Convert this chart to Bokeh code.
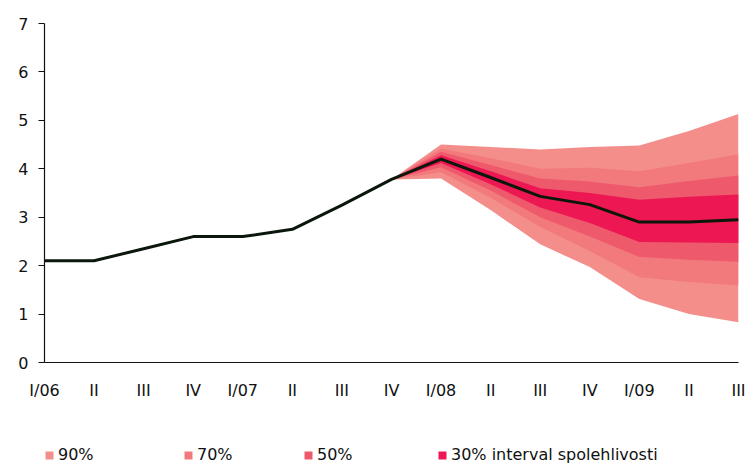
from bokeh.plotting import figure
from bokeh.layouts import column
from bokeh.models import FixedTicker, Legend, LegendItem, Range1d
from bokeh.embed import file_html
from bokeh.resources import INLINE

quarters = ["I/06", "II", "III", "IV", "I/07", "II", "III", "IV",
            "I/08", "II", "III", "IV", "I/09", "II", "III"]
baseline = [2.1, 2.1, 2.35, 2.6, 2.6, 2.75, 3.25, 3.78,
            4.2, 3.82, 3.43, 3.26, 2.9, 2.9, 2.95]

# fan chart from IV/07 onwards
fan_start = 7
hi90 = [3.78, 4.5, 4.45, 4.4, 4.45, 4.48, 4.78, 5.13]
lo90 = [3.78, 3.8, 3.15, 2.44, 1.97, 1.31, 1.0, 0.83]
hi70 = [3.78, 4.42, 4.22, 4.0, 4.02, 3.95, 4.12, 4.3]
lo70 = [3.78, 3.93, 3.4, 2.8, 2.3, 1.76, 1.66, 1.59]
hi50 = [3.78, 4.35, 4.08, 3.8, 3.74, 3.62, 3.75, 3.86]
lo50 = [3.78, 4.03, 3.55, 3.0, 2.6, 2.18, 2.12, 2.08]
hi30 = [3.78, 4.28, 3.95, 3.6, 3.5, 3.36, 3.42, 3.47]
lo30 = [3.78, 4.12, 3.68, 3.2, 2.88, 2.49, 2.48, 2.47]

band_labels = ["90%", "70%", "50%", "30% interval spolehlivosti"]
band_colors = ["#F48E8B", "#F27A7D", "#EE5A6C", "#EC1753"]
y_ticks = [0, 1, 2, 3, 4, 5, 6, 7]

FONT = "DejaVu Sans"
TXT = "#111111"

x_all = list(range(len(quarters)))
x_fan = x_all[fan_start:]

p = figure(width=746, height=430, output_backend="svg", toolbar_location=None,
           x_range=Range1d(0, len(quarters) - 1), y_range=Range1d(0, 7),
           min_border_left=44, min_border_right=8, min_border_top=23,
           min_border_bottom=68)
p.outline_line_color = None
p.xgrid.visible = False
p.ygrid.visible = False

bands = [(lo90, hi90), (lo70, hi70), (lo50, hi50), (lo30, hi30)]
for (lo, hi), c in zip(bands, band_colors):
    p.varea(x=x_fan, y1=lo, y2=hi, fill_color=c, fill_alpha=1.0)

p.line(x_all, baseline, line_color="#0B170B", line_width=3)

# axes
p.xaxis.ticker = FixedTicker(ticks=x_all)
p.xaxis.major_label_overrides = {i: q for i, q in enumerate(quarters)}
p.xaxis.major_tick_out = 0
p.xaxis.major_tick_in = 0
p.xaxis.minor_tick_line_color = None
p.xaxis.major_label_standoff = 18
p.xaxis.axis_line_color = "#111111"
p.xaxis.axis_line_width = 1.2

p.yaxis.ticker = FixedTicker(ticks=y_ticks)
p.yaxis.major_tick_out = 6
p.yaxis.major_tick_in = 0
p.yaxis.minor_tick_line_color = None
p.yaxis.major_label_standoff = 10
p.yaxis.axis_line_color = "#111111"
p.yaxis.major_tick_line_color = "#111111"
p.yaxis.axis_line_width = 1.2

for ax in (p.xaxis[0], p.yaxis[0]):
    ax.major_label_text_font = FONT
    ax.major_label_text_font_size = "16px"
    ax.major_label_text_color = TXT

# legend strip below the chart (its frame is aligned with the chart's frame)
pl = figure(width=746, height=38, output_backend="svg", toolbar_location=None,
            x_range=Range1d(0, 1), y_range=Range1d(0, 1),
            min_border=0, x_axis_location=None, y_axis_location=None)
pl.outline_line_color = None
pl.xgrid.visible = False
pl.ygrid.visible = False

legend_x = [0, 139, 259, 393]
for lab, c, lx in zip(band_labels, band_colors, legend_x):
    # zero-height area: only used as the legend swatch
    r = pl.varea(x=[0, 1], y1=[0, 0], y2=[0, 0], fill_color=c, fill_alpha=1.0)
    lg = Legend(items=[LegendItem(label=lab, renderers=[r])],
                location=(lx, 4), orientation="horizontal",
                padding=0, margin=0, spacing=0,
                glyph_width=10, glyph_height=10, label_standoff=4,
                label_text_font=FONT, label_text_font_size="16px",
                label_text_color=TXT, label_height=16,
                background_fill_alpha=0, border_line_color=None)
    pl.add_layout(lg, "center")

layout = column(p, pl, spacing=0)
open("out.html", "w").write(file_html(layout, INLINE))
